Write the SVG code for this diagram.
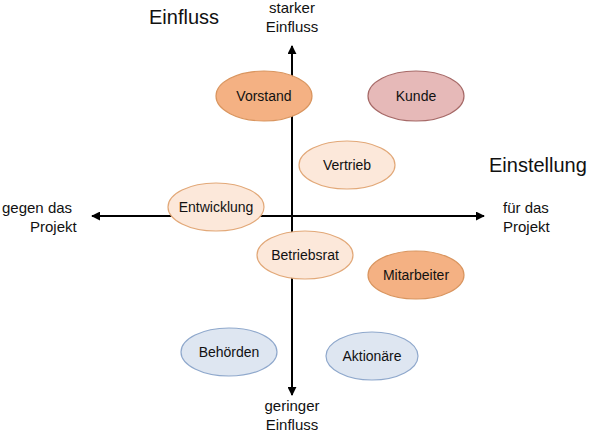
<svg xmlns="http://www.w3.org/2000/svg" width="600" height="433" viewBox="0 0 600 433">
<style>
text{font-family:"Liberation Sans",Arial,sans-serif;fill:#111}
.n{font-size:14px;text-anchor:middle}
.m{font-size:15px;text-anchor:middle}
.a{font-size:15px}
.dark{fill:#F4B183;stroke:#D9955F;stroke-width:1.2}
.light{fill:#FCE8DA;stroke:#E2A878;stroke-width:1.2}
.red{fill:#E6B9B8;stroke:#A66967;stroke-width:1.2}
.blue{fill:#DEE6F1;stroke:#8FA8CC;stroke-width:1.2}
</style>
<defs><marker id="ar" viewBox="0 0 10 10" refX="9" refY="5" markerWidth="9" markerHeight="9" markerUnits="userSpaceOnUse" orient="auto-start-reverse"><path d="M0,0L10,5L0,10z" fill="#000"/></marker></defs>
<g id="connectors" stroke="#000" stroke-width="2">
<line x1="292" y1="395" x2="292" y2="46" marker-end="url(#ar)" marker-start="url(#ar)"/>
<line x1="92" y1="216" x2="484" y2="216" marker-end="url(#ar)" marker-start="url(#ar)"/>
</g>
<g id="labels">
<text x="149" y="24" style="font-size:20px">Einfluss</text>
<text x="489" y="172" style="font-size:20px">Einstellung</text>
<text class="m" x="292" y="13">starker</text>
<text class="m" x="292" y="32">Einfluss</text>
<text class="m" x="292" y="411">geringer</text>
<text class="m" x="292" y="430">Einfluss</text>
<text class="a" x="2" y="213">gegen das</text>
<text class="a" x="30" y="232">Projekt</text>
<text class="a" x="503" y="213">für das</text>
<text class="a" x="503" y="232">Projekt</text>
</g>
<g id="vorstand"><ellipse class="dark" cx="264" cy="96" rx="48" ry="25"/><text class="n" x="264" y="101">Vorstand</text></g>
<g id="kunde"><ellipse class="red" cx="416" cy="96" rx="48" ry="25"/><text class="n" x="416" y="101">Kunde</text></g>
<g id="vertrieb"><ellipse class="light" cx="347" cy="165" rx="48" ry="24"/><text class="n" x="347" y="170">Vertrieb</text></g>
<g id="entwicklung"><ellipse class="light" cx="216" cy="207" rx="48" ry="24"/><text class="n" x="216" y="212">Entwicklung</text></g>
<g id="betriebsrat"><ellipse class="light" cx="305" cy="255" rx="48" ry="24"/><text class="n" x="305" y="260">Betriebsrat</text></g>
<g id="mitarbeiter"><ellipse class="dark" cx="416" cy="275" rx="48" ry="24"/><text class="n" x="416" y="280">Mitarbeiter</text></g>
<g id="behoerden"><ellipse class="blue" cx="229" cy="352" rx="48" ry="24"/><text class="n" x="229" y="357">Behörden</text></g>
<g id="aktionaere"><ellipse class="blue" cx="372" cy="356" rx="46" ry="24"/><text class="n" x="372" y="361">Aktionäre</text></g>
</svg>
